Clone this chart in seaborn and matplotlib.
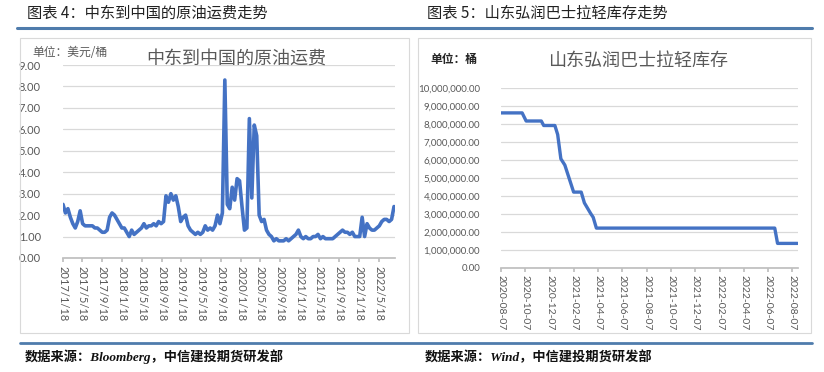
import matplotlib
matplotlib.use('Agg')
import matplotlib.pyplot as plt
from matplotlib.patches import Rectangle
from matplotlib.lines import Line2D
import matplotlib.ticker as mticker
import numpy as np
import pandas as pd
import seaborn as sns

# ---------------- data ----------------
# Left: Middle East -> China crude freight (USD/bbl), two readings per month
freight_2017 = [2.5, 2.1, 2.3, 1.9, 1.6, 1.4, 1.7, 2.2, 1.6, 1.5, 1.5, 1.5,
                1.5, 1.4, 1.4, 1.3, 1.2, 1.2, 1.3, 1.9, 2.1, 2.0, 1.8, 1.6]
freight_2018 = [1.4, 1.4, 1.2, 1.0, 1.3, 1.1, 1.2, 1.3, 1.4, 1.6, 1.4, 1.5,
                1.5, 1.6, 1.5, 1.7, 1.6, 1.7, 2.9, 2.6, 3.0, 2.7, 2.9, 2.4]
freight_2019 = [1.7, 1.9, 2.0, 1.5, 1.3, 1.2, 1.1, 1.2, 1.1, 1.2, 1.5, 1.3,
                1.4, 1.3, 1.5, 2.0, 1.6, 2.1, 8.3, 2.5, 2.3, 3.3, 2.7, 3.7]
freight_2020 = [3.6, 2.4, 1.3, 1.4, 6.5, 2.8, 6.2, 5.7, 2.0, 1.7, 1.8, 1.3,
                1.1, 1.0, 0.8, 0.9, 0.8, 0.8, 0.8, 0.9, 0.8, 0.9, 1.0, 1.1]
freight_2021 = [1.3, 1.0, 0.9, 1.0, 0.9, 0.9, 1.0, 1.0, 1.1, 0.9, 1.0, 0.9,
                0.9, 0.9, 0.9, 1.0, 1.1, 1.2, 1.3, 1.2, 1.2, 1.1, 1.2, 1.0]
freight_2022 = [1.0, 1.0, 1.9, 1.0, 1.6, 1.4, 1.3, 1.3, 1.4, 1.5, 1.7, 1.8,
                1.8, 1.7, 1.8, 2.4]
freight_start = '2017-01-18'
freight_end = '2022-08-21'

# Right: Shandong Hongrun Basrah Light inventory (barrels)
stock_dates = ['2020-08-07', '2020-09-29', '2020-10-09', '2020-11-16', '2020-11-22',
               '2020-12-20', '2020-12-27', '2021-01-04', '2021-01-14', '2021-02-05',
               '2021-02-24', '2021-03-04', '2021-03-20', '2021-03-26', '2021-04-03',
               '2022-06-24', '2022-07-01', '2022-08-20']
stock_values = [8600000, 8600000, 8150000, 8150000, 7900000,
                7900000, 7400000, 6050000, 5700000, 4200000,
                4200000, 3600000, 3000000, 2800000, 2200000,
                2200000, 1350000, 1350000]

left_ticks = ['2017/1/18', '2017/5/18', '2017/9/18', '2018/1/18', '2018/5/18', '2018/9/18',
              '2019/1/18', '2019/5/18', '2019/9/18', '2020/1/18', '2020/5/18', '2020/9/18',
              '2021/1/18', '2021/5/18', '2021/9/18', '2022/1/18', '2022/5/18']
right_ticks = ['2020-08-07', '2020-10-07', '2020-12-07', '2021-02-07', '2021-04-07',
               '2021-06-07', '2021-08-07', '2021-10-07', '2021-12-07', '2022-02-07',
               '2022-04-07', '2022-06-07', '2022-08-07']

header_left = '图表 4：中东到中国的原油运费走势'
header_right = '图表 5：山东弘润巴士拉轻库存走势'
title_left = '中东到中国的原油运费'
title_right = '山东弘润巴士拉轻库存'
unit_left = '单位：美元/桶'
unit_right = '单位：桶'
source_left = '数据来源：Bloomberg，中信建投期货研发部'
source_right = '数据来源：Wind，中信建投期货研发部'

freight = freight_2017 + freight_2018 + freight_2019 + freight_2020 + freight_2021 + freight_2022
df_left = pd.DataFrame({'date': pd.date_range(freight_start, freight_end, periods=len(freight)),
                        'value': freight})
df_right = pd.DataFrame({'date': pd.to_datetime(stock_dates), 'value': stock_values})

# ---------------- style ----------------
sns.set_theme(style='white')
plt.rcParams['font.family'] = ['Lato', 'Noto Sans CJK SC', 'DejaVu Sans']

W, H = 824, 372
fig = plt.figure(figsize=(W / 100, H / 100), dpi=100)


def fx(px):
    return px / W


def fy(py):
    return 1 - py / H


LINE = '#4472C4'
GRID = '#d9d9d9'
TXT = '#595959'
RULE = '#4f7cac'
CJK = ['Noto Sans CJK SC', 'DejaVu Sans']

# header rules and boxes
fig.add_artist(Line2D([fx(17), fx(812)], [fy(28), fy(28)], color=RULE, lw=2.2))
fig.add_artist(Line2D([fx(20), fx(812)], [fy(342.5), fy(342.5)], color=RULE, lw=2.0))
fig.add_artist(Rectangle((fx(20), fy(333)), fx(409 - 20), (333 - 38) / H,
                         fill=False, edgecolor=GRID, lw=0.8))
fig.add_artist(Rectangle((fx(418), fy(333)), fx(811 - 418), (333 - 38) / H,
                         fill=False, edgecolor=GRID, lw=0.8))

fig.text(fx(27), fy(13), header_left, family=CJK, fontsize=11, color='#222222', va='center')
fig.text(fx(427), fy(13), header_right, family=CJK, fontsize=11, color='#222222', va='center')

src_fam = ['Liberation Serif', 'Noto Sans CJK SC']
fig.text(fx(25), fy(357), source_left, family=src_fam, fontsize=9.5, weight='heavy',
         style='italic', color='#111111', va='center')
fig.text(fx(425), fy(357), source_right, family=src_fam, fontsize=9.5, weight='heavy',
         style='italic', color='#111111', va='center')

# ---------------- left chart ----------------
ax1 = fig.add_axes([fx(63), fy(258), fx(395 - 63), (258 - 65) / H])
sns.lineplot(data=df_left, x='date', y='value', ax=ax1, color=LINE, linewidth=2.6)
ax1.set_xlim(pd.Timestamp(freight_start), pd.Timestamp('2022-08-27'))
ax1.set_ylim(0, 9)
ax1.set_yticks(np.arange(0, 10, 1))
ax1.yaxis.set_major_formatter(mticker.FormatStrFormatter('%.2f'))
ax1.set_xticks(pd.to_datetime(left_ticks, format='%Y/%m/%d'))
ax1.set_xticklabels(left_ticks, rotation=-90)
ax1.set_xlabel('')
ax1.set_ylabel('')
ax1.yaxis.grid(True, color=GRID, lw=0.9)
ax1.xaxis.grid(False)
for s in ['left', 'right', 'top']:
    ax1.spines[s].set_visible(False)
ax1.spines['bottom'].set_color('#bfbfbf')
ax1.tick_params(axis='x', bottom=True, length=3, color='#bfbfbf', labelsize=8,
                labelcolor=TXT, pad=3)
ax1.tick_params(axis='y', left=False, labelsize=8, labelcolor=TXT, pad=10)

fig.text(fx(32), fy(53), unit_left, family=CJK, fontsize=8.5, color=TXT, va='center')
fig.text(fx(236), fy(60), title_left, family=CJK, fontsize=13, color=TXT,
         va='center', ha='center')

# ---------------- right chart ----------------
ax2 = fig.add_axes([fx(501), fy(267.7), fx(797.5 - 501), (267.7 - 87.7) / H])
sns.lineplot(data=df_right, x='date', y='value', ax=ax2, color=LINE, linewidth=2.4)
ax2.set_xlim(pd.Timestamp('2020-08-07'), pd.Timestamp('2022-08-20'))
ax2.set_ylim(0, 10000000)
ax2.set_yticks(np.arange(0, 10000001, 1000000))
ax2.yaxis.set_major_formatter(mticker.StrMethodFormatter('{x:,.2f}'))
ax2.set_xticks(pd.to_datetime(right_ticks))
ax2.set_xticklabels(right_ticks, rotation=-90)
ax2.set_xlabel('')
ax2.set_ylabel('')
ax2.yaxis.grid(True, color=GRID, lw=0.9)
ax2.xaxis.grid(False)
for s in ['left', 'right', 'top']:
    ax2.spines[s].set_visible(False)
ax2.spines['bottom'].set_color('#bfbfbf')
ax2.tick_params(axis='x', bottom=True, length=3, color='#bfbfbf', labelsize=7.5,
                labelcolor=TXT, pad=2)
ax2.tick_params(axis='y', left=False, labelsize=7, labelcolor=TXT, pad=9)

fig.text(fx(430), fy(60), unit_right, family=CJK, fontsize=8.5, color='#262626',
         weight='bold', va='center')
fig.text(fx(638), fy(61), title_right, family=CJK, fontsize=13, color=TXT,
         va='center', ha='center')

fig.savefig('out.png', dpi=100, facecolor='white')
